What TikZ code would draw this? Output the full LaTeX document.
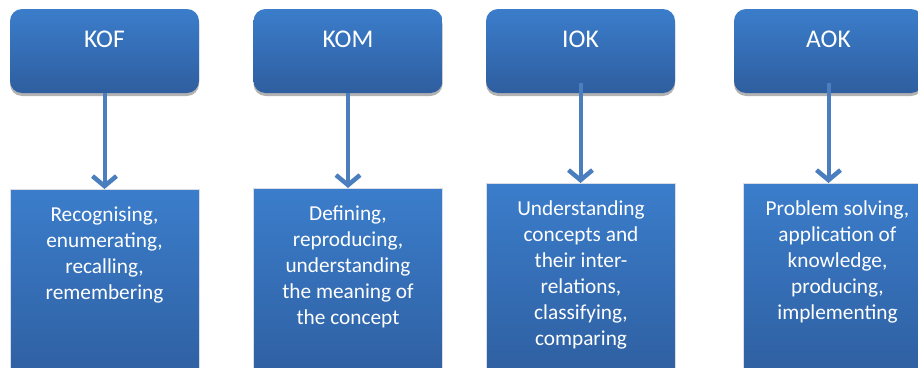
\documentclass[tikz,border=0pt]{standalone}
\usepackage{fontspec}
\setmainfont{Carlito}
\usetikzlibrary{arrows.meta,shadows,positioning}
\definecolor{boxtop}{HTML}{3B7DCB}
\definecolor{boxbot}{HTML}{2E5E9F}
\definecolor{arrowblue}{HTML}{4A7EBF}
\definecolor{edgegray}{HTML}{D8DDE6}
\tikzset{
  headbox/.style={rounded corners=12pt, minimum width=189pt, minimum height=84pt,
    top color=boxtop, bottom color=boxbot, draw=none, inner sep=0pt,
    drop shadow={shadow xshift=0pt, shadow yshift=-3pt, fill=black, opacity=0.3}},
  headtext/.style={text=white, font=\fontsize{25.5}{30}\selectfont, anchor=base, inner sep=0pt},
  bodybox/.style={minimum width=189pt, minimum height=200pt, anchor=north,
    top color=boxtop, bottom color=boxbot, draw=edgegray, line width=0.8pt, inner sep=0pt},
  bodytext/.style={text=white, font=\fontsize{21.3}{26}\selectfont, align=center,
    anchor=north, inner sep=0pt},
  conn/.style={draw=arrowblue, line width=4pt,
    -{Straight Barb[length=10pt, width=24pt, line width=4.5pt]}},
}
\begin{document}
\begin{tikzpicture}[x=1pt, y=-1pt]
\clip (0,0) rectangle (918,367);
\useasboundingbox (0,0) rectangle (918,367);
\fill[white] (0,0) rectangle (918,367);

% head boxes
\node[headbox] (t1) at (104.5,51) {};
\node[headbox] (t2) at (348,51) {};
\node[headbox] (t3) at (580.5,51) {};
\node[headbox] (t4) at (828.5,51) {};
\node[headtext] (l1) at (104.5,47) {KOF};
\node[headtext] (l2) at (348,47) {KOM};
\node[headtext] (l3) at (580.5,47) {IOK};
\node[headtext] (l4) at (828.5,47) {AOK};

% body boxes
\node[bodybox] (b1) at (104.5,189) {};
\node[bodybox] (b2) at (348,188) {};
\node[bodybox] (b3) at (581,183) {};
\node[bodybox] (b4) at (837.5,183) {};

\node[bodytext] (x1) at (104.5,207) {Recognising,\\enumerating,\\recalling,\\remembering};
\node[bodytext] (x2) at (348,206) {Defining,\\reproducing,\\understanding\\the meaning of\\the concept};
\node[bodytext] (x3) at (581,200.5) {Understanding\\concepts and\\their inter-\\relations,\\classifying,\\comparing};
\node[bodytext] (x4) at (837.5,200.5) {Problem solving,\\application of\\knowledge,\\producing,\\implementing};

% connectors
\draw[conn] (t1.south) -- (t1.south |- b1.north);
\draw[conn] (t2.south) -- (t2.south |- b2.north);
\draw[conn] ([yshift=10pt]t3.south) -- (t3.south |- b3.north);
\draw[conn] ([yshift=10pt]t4.south) -- (t4.south |- b4.north);
\end{tikzpicture}
\end{document}
